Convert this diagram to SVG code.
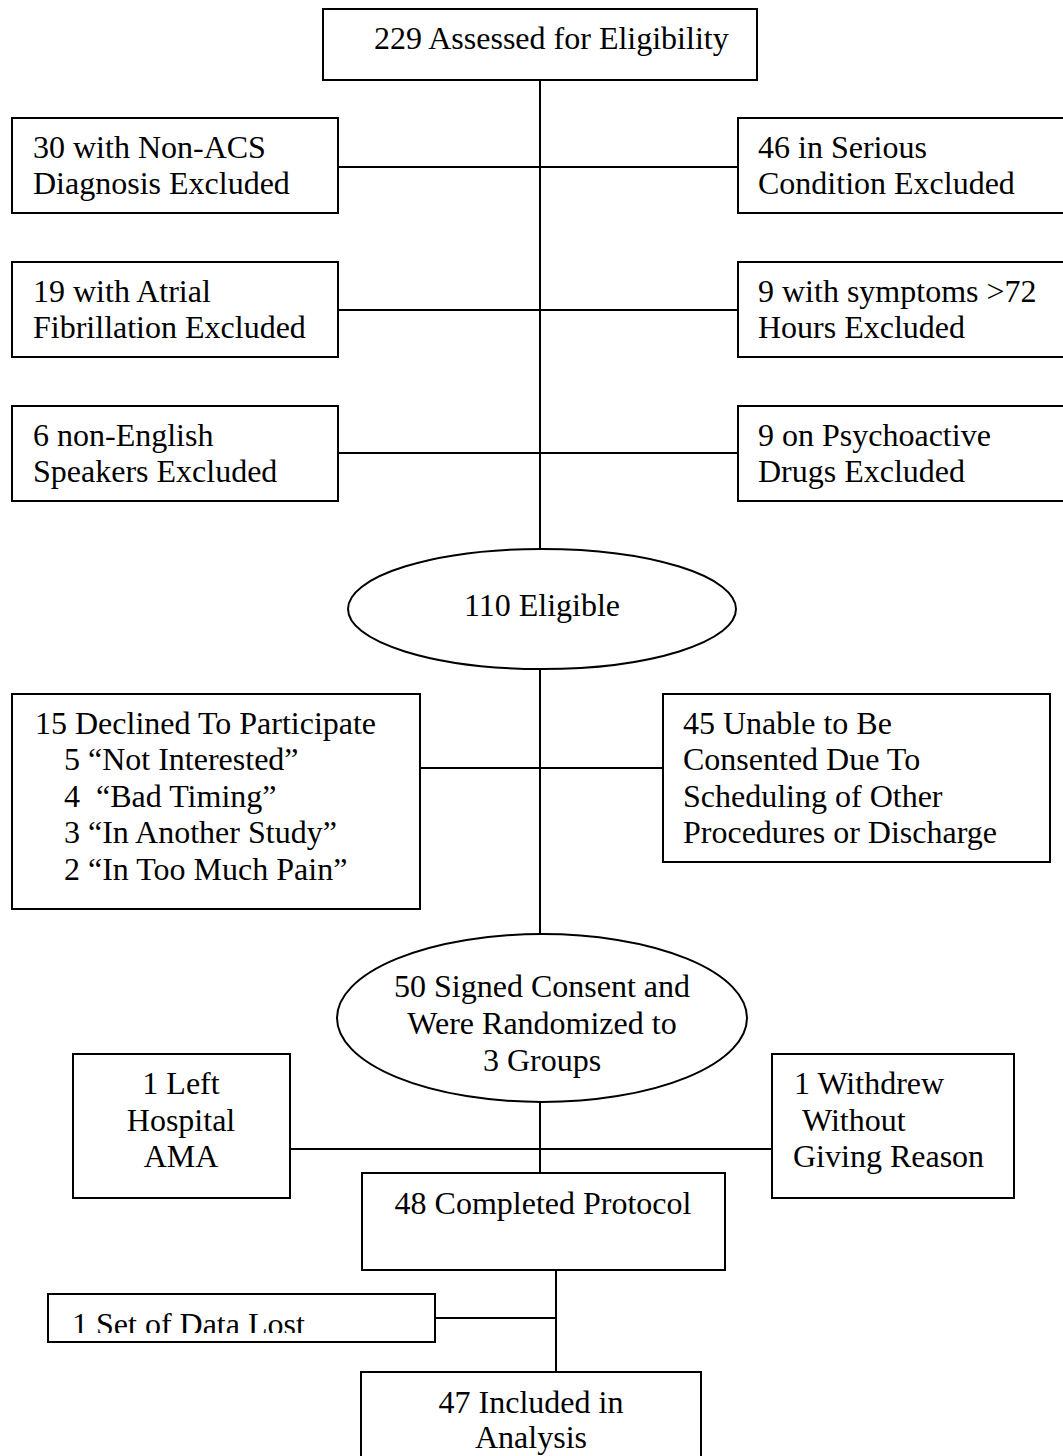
<svg xmlns="http://www.w3.org/2000/svg" width="1063" height="1456" viewBox="0 0 1063 1456">
<style>
.b{fill:#fff;stroke:#000;stroke-width:2}
.c{fill:none;stroke:#000;stroke-width:2}
text{font-family:"Liberation Serif","Times New Roman",serif;font-size:32px;fill:#000}
.m{text-anchor:middle}
</style>
<defs>
<clipPath id="clipLost"><rect x="48" y="1294" width="387" height="39"/></clipPath>
</defs>
<rect width="1063" height="1456" fill="#fff"/>
<g id="connectors">
<line class="c" x1="540" y1="80" x2="540" y2="549"/>
<line class="c" x1="338" y1="167" x2="738" y2="167"/>
<line class="c" x1="338" y1="310" x2="738" y2="310"/>
<line class="c" x1="338" y1="453" x2="738" y2="453"/>
<line class="c" x1="540" y1="669" x2="540" y2="935"/>
<line class="c" x1="420" y1="768" x2="663" y2="768"/>
<line class="c" x1="540" y1="1102" x2="540" y2="1173"/>
<line class="c" x1="290" y1="1149" x2="772" y2="1149"/>
<line class="c" x1="556" y1="1270" x2="556" y2="1372"/>
<line class="c" x1="435" y1="1318" x2="556" y2="1318"/>
</g>
<g id="n-assessed">
<rect class="b" x="323" y="9" width="434" height="71"/>
<text x="374" y="49">229 Assessed for Eligibility</text>
</g>
<g id="n-nonacs">
<rect class="b" x="12" y="118" width="326" height="95"/>
<text x="33" y="158">30 with Non-ACS</text>
<text x="33" y="194">Diagnosis Excluded</text>
</g>
<g id="n-serious">
<rect class="b" x="738" y="118" width="340" height="95"/>
<text x="758" y="158">46 in Serious</text>
<text x="758" y="194">Condition Excluded</text>
</g>
<g id="n-atrial">
<rect class="b" x="12" y="262" width="326" height="95"/>
<text x="33" y="302">19 with Atrial</text>
<text x="33" y="338">Fibrillation Excluded</text>
</g>
<g id="n-symptoms">
<rect class="b" x="738" y="262" width="340" height="95"/>
<text x="758" y="302">9 with symptoms &gt;72</text>
<text x="758" y="338">Hours Excluded</text>
</g>
<g id="n-english">
<rect class="b" x="12" y="406" width="326" height="95"/>
<text x="33" y="446">6 non-English</text>
<text x="33" y="482">Speakers Excluded</text>
</g>
<g id="n-drugs">
<rect class="b" x="738" y="406" width="340" height="95"/>
<text x="758" y="446">9 on Psychoactive</text>
<text x="758" y="482">Drugs Excluded</text>
</g>
<g id="n-eligible">
<ellipse class="b" cx="542" cy="609" rx="194" ry="60"/>
<text class="m" x="542" y="616">110 Eligible</text>
</g>
<g id="n-declined">
<rect class="b" x="12" y="694" width="408" height="215"/>
<text x="35" y="734">15 Declined To Participate</text>
<text x="64" y="770">5 “Not Interested”</text>
<text x="64" y="807" xml:space="preserve">4  “Bad Timing”</text>
<text x="64" y="843">3 “In Another Study”</text>
<text x="64" y="880">2 “In Too Much Pain”</text>
</g>
<g id="n-unable">
<rect class="b" x="663" y="694" width="387" height="168"/>
<text x="683" y="734">45 Unable to Be</text>
<text x="683" y="770">Consented Due To</text>
<text x="683" y="807">Scheduling of Other</text>
<text x="683" y="843">Procedures or Discharge</text>
</g>
<g id="n-signed">
<ellipse class="b" cx="542" cy="1018" rx="205" ry="84"/>
<text class="m" x="542" y="997">50 Signed Consent and</text>
<text class="m" x="542" y="1034">Were Randomized to</text>
<text class="m" x="542" y="1071">3 Groups</text>
</g>
<g id="n-left">
<rect class="b" x="73" y="1054" width="217" height="144"/>
<text class="m" x="181" y="1094">1 Left</text>
<text class="m" x="181" y="1131">Hospital</text>
<text class="m" x="181" y="1167">AMA</text>
</g>
<g id="n-withdrew">
<rect class="b" x="772" y="1054" width="242" height="144"/>
<text x="794" y="1094">1 Withdrew</text>
<text x="802" y="1131">Without</text>
<text x="793" y="1167">Giving Reason</text>
</g>
<g id="n-completed">
<rect class="b" x="362" y="1173" width="363" height="97"/>
<text class="m" x="543" y="1214">48 Completed Protocol</text>
</g>
<g id="n-lost">
<rect class="b" x="48" y="1294" width="387" height="48"/>
<text x="72" y="1335" clip-path="url(#clipLost)">1 Set of Data Lost</text>
</g>
<g id="n-included">
<rect class="b" x="361" y="1372" width="340" height="110"/>
<text class="m" x="531" y="1413">47 Included in</text>
<text class="m" x="531" y="1448">Analysis</text>
</g>
</svg>
